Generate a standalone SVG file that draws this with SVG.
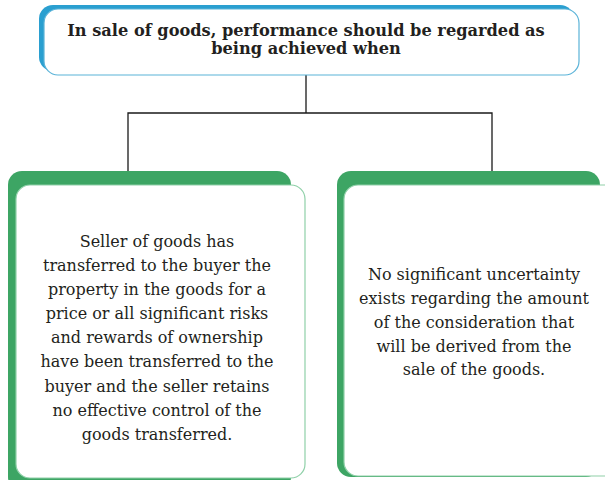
<svg xmlns="http://www.w3.org/2000/svg" width="605" height="480" viewBox="0 0 605 480">
<style>
.t{font-family:"DejaVu Serif","Liberation Serif",serif;font-size:16px;fill:#231f20;text-anchor:middle}
.b{font-weight:bold;font-size:16.2px}
.conn{fill:none;stroke:#1a1a1a;stroke-width:1.3}
.gback{fill:#3da564}
.gfront{fill:#fff;stroke:#8fd0a8;stroke-width:1.2}
</style>
<rect width="605" height="480" fill="#fff"/>
<g id="connectors">
<path class="conn" d="M306 75V113M128 172V113H492V172"/>
</g>
<g id="top">
<rect x="39" y="5" width="535" height="66" rx="14" fill="#2a9fd0"/>
<rect x="44" y="9" width="535" height="66" rx="14" fill="#fff" stroke="#5ab3d8" stroke-width="1.2"/>
<text class="t b" x="306" y="36">In sale of goods, performance should be regarded as</text>
<text class="t b" x="306" y="54">being achieved when</text>
</g>
<g id="left">
<rect class="gback" x="8" y="171" width="283" height="320" rx="14"/>
<rect class="gfront" x="16" y="185" width="289" height="293" rx="14"/>
<text class="t" x="157"><tspan x="157" y="247">Seller of goods has</tspan><tspan x="157" y="271">transferred to the buyer the</tspan><tspan x="157" y="295">property in the goods for a</tspan><tspan x="157" y="319">price or all significant risks</tspan><tspan x="157" y="343">and rewards of ownership</tspan><tspan x="157" y="367">have been transferred to the</tspan><tspan x="157" y="392">buyer and the seller retains</tspan><tspan x="157" y="416">no effective control of the</tspan><tspan x="157" y="440">goods transferred.</tspan></text>
</g>
<g id="right">
<rect class="gback" x="337" y="171" width="263" height="306" rx="14"/>
<rect class="gfront" x="344" y="185" width="280" height="291" rx="14"/>
<text class="t" x="474"><tspan x="474" y="280">No significant uncertainty</tspan><tspan x="474" y="304">exists regarding the amount</tspan><tspan x="474" y="328">of the consideration that</tspan><tspan x="474" y="352">will be derived from the</tspan><tspan x="474" y="375">sale of the goods.</tspan></text>
</g>
</svg>
